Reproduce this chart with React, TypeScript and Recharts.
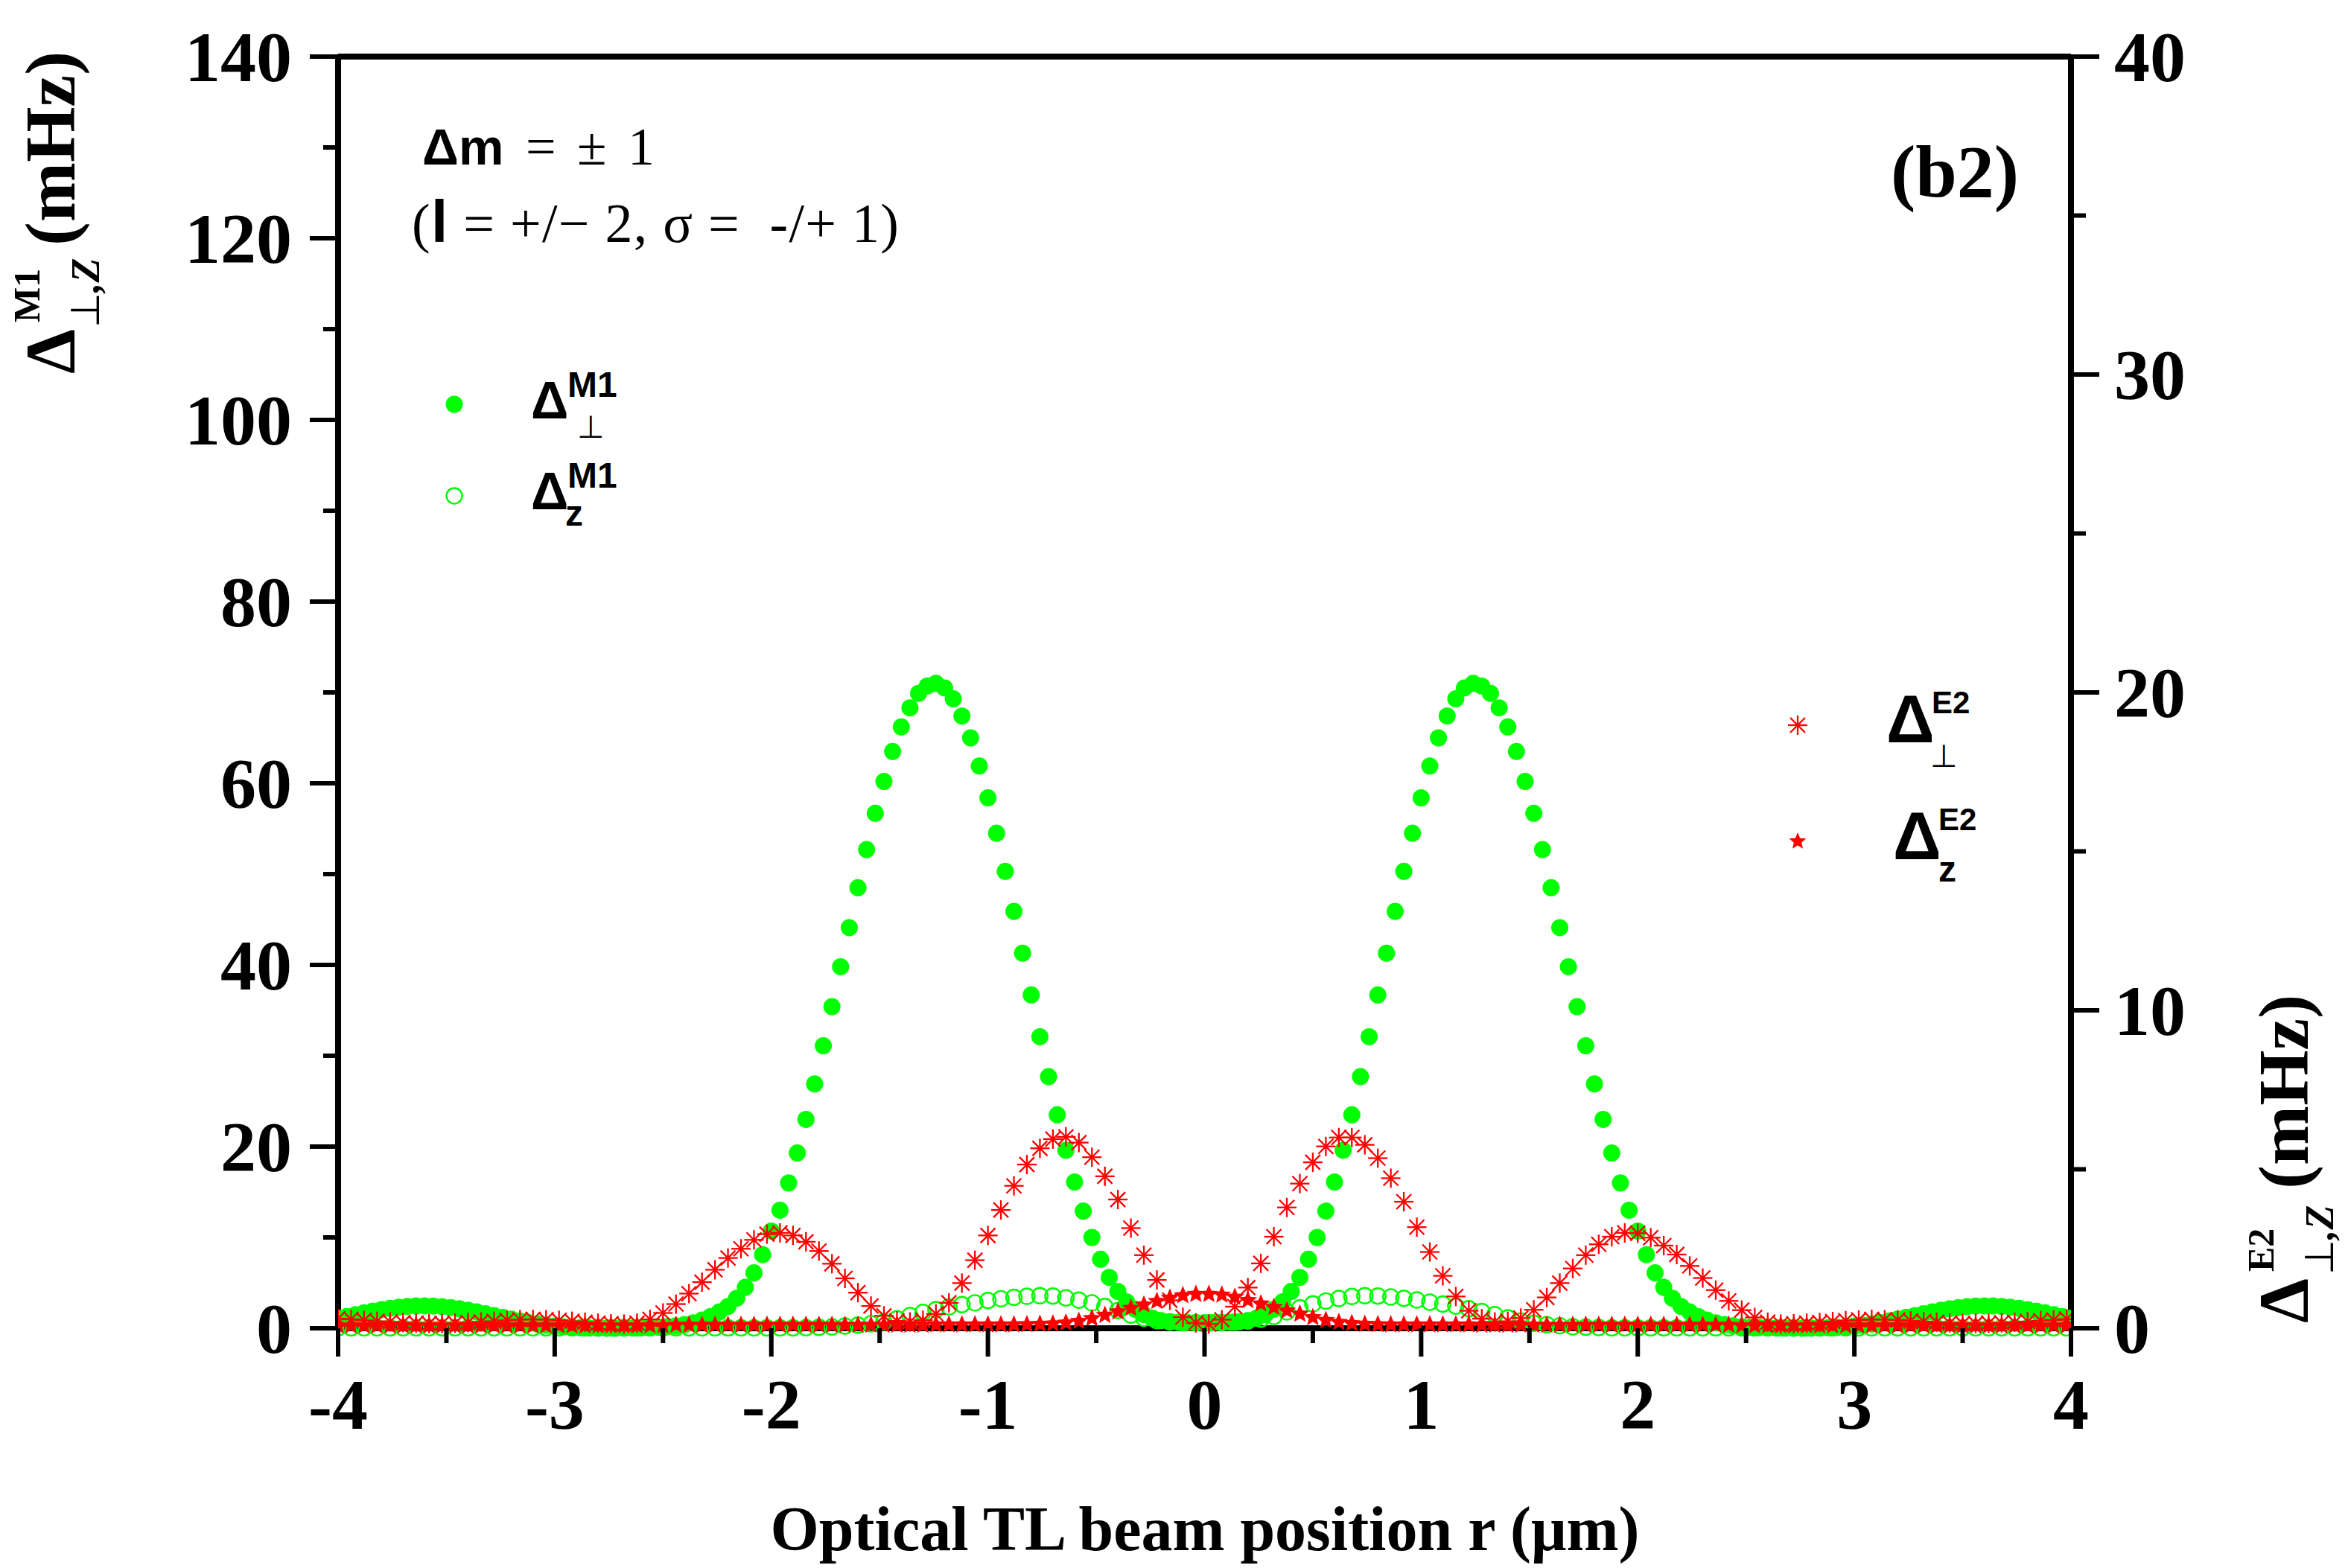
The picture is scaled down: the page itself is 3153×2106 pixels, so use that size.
import { ComposedChart, Scatter, XAxis, YAxis, ReferenceLine } from 'recharts';

const W = 3153;
const H = 2106;
const SERIF = '"Liberation Serif", "Times New Roman", serif';
const SANS = '"Liberation Sans", Arial, sans-serif';
const GREEN = '#00ff00';
const RED = '#ff0000';

// beam positions (um), 0.04 step for the M1 perpendicular series
const rFine = [
  -4, -3.96, -3.92, -3.88, -3.84, -3.8, -3.76, -3.72, -3.68, -3.64,
  -3.6, -3.56, -3.52, -3.48, -3.44, -3.4, -3.36, -3.32, -3.28, -3.24,
  -3.2, -3.16, -3.12, -3.08, -3.04, -3, -2.96, -2.92, -2.88, -2.84,
  -2.8, -2.76, -2.72, -2.68, -2.64, -2.6, -2.56, -2.52, -2.48, -2.44,
  -2.4, -2.36, -2.32, -2.28, -2.24, -2.2, -2.16, -2.12, -2.08, -2.04,
  -2, -1.96, -1.92, -1.88, -1.84, -1.8, -1.76, -1.72, -1.68, -1.64,
  -1.6, -1.56, -1.52, -1.48, -1.44, -1.4, -1.36, -1.32, -1.28, -1.24,
  -1.2, -1.16, -1.12, -1.08, -1.04, -1, -0.96, -0.92, -0.88, -0.84,
  -0.8, -0.76, -0.72, -0.68, -0.64, -0.6, -0.56, -0.52, -0.48, -0.44,
  -0.4, -0.36, -0.32, -0.28, -0.24, -0.2, -0.16, -0.12, -0.08, -0.04,
  0,
  0.04, 0.08, 0.12, 0.16, 0.2, 0.24, 0.28, 0.32, 0.36, 0.4,
  0.44, 0.48, 0.52, 0.56, 0.6, 0.64, 0.68, 0.72, 0.76, 0.8,
  0.84, 0.88, 0.92, 0.96, 1, 1.04, 1.08, 1.12, 1.16, 1.2,
  1.24, 1.28, 1.32, 1.36, 1.4, 1.44, 1.48, 1.52, 1.56, 1.6,
  1.64, 1.68, 1.72, 1.76, 1.8, 1.84, 1.88, 1.92, 1.96, 2,
  2.04, 2.08, 2.12, 2.16, 2.2, 2.24, 2.28, 2.32, 2.36, 2.4,
  2.44, 2.48, 2.52, 2.56, 2.6, 2.64, 2.68, 2.72, 2.76, 2.8,
  2.84, 2.88, 2.92, 2.96, 3, 3.04, 3.08, 3.12, 3.16, 3.2,
  3.24, 3.28, 3.32, 3.36, 3.4, 3.44, 3.48, 3.52, 3.56, 3.6,
  3.64, 3.68, 3.72, 3.76, 3.8, 3.84, 3.88, 3.92, 3.96, 4,
];

// beam positions (um), 0.06 step for the other three series
const rCoarse = [
  -4, -3.94, -3.88, -3.82, -3.76, -3.7, -3.64, -3.58, -3.52, -3.46,
  -3.4, -3.34, -3.28, -3.22, -3.16, -3.1, -3.04, -2.98, -2.92, -2.86,
  -2.8, -2.74, -2.68, -2.62, -2.56, -2.5, -2.44, -2.38, -2.32, -2.26,
  -2.2, -2.14, -2.08, -2.02, -1.96, -1.9, -1.84, -1.78, -1.72, -1.66,
  -1.6, -1.54, -1.48, -1.42, -1.36, -1.3, -1.24, -1.18, -1.12, -1.06,
  -1, -0.94, -0.88, -0.82, -0.76, -0.7, -0.64, -0.58, -0.52, -0.46,
  -0.4, -0.34, -0.28, -0.22, -0.16, -0.1, -0.04, 0.02, 0.08, 0.14,
  0.2, 0.26, 0.32, 0.38, 0.44, 0.5, 0.56, 0.62, 0.68, 0.74,
  0.8, 0.86, 0.92, 0.98, 1.04, 1.1, 1.16, 1.22, 1.28, 1.34,
  1.4, 1.46, 1.52, 1.58, 1.64, 1.7, 1.76, 1.82, 1.88, 1.94,
  2, 2.06, 2.12, 2.18, 2.24, 2.3, 2.36, 2.42, 2.48, 2.54,
  2.6, 2.66, 2.72, 2.78, 2.84, 2.9, 2.96, 3.02, 3.08, 3.14,
  3.2, 3.26, 3.32, 3.38, 3.44, 3.5, 3.56, 3.62, 3.68, 3.74,
  3.8, 3.86, 3.92, 3.98,
];

// M1 perpendicular (mHz, left axis)
const m1Perp = [
  1.1, 1.3, 1.5, 1.7, 1.88, 2.05, 2.2, 2.32, 2.4, 2.45,
  2.46, 2.44, 2.38, 2.28, 2.15, 1.98, 1.8, 1.6, 1.4, 1.2,
  1.0, 0.8, 0.62, 0.47, 0.34, 0.24, 0.16, 0.1, 0.06, 0.03,
  0.02, 0.01, 0.01, 0.02, 0.03, 0.05, 0.08, 0.12, 0.18, 0.27,
  0.4, 0.6, 0.9, 1.3, 1.8, 2.4, 3.3, 4.5, 6.1, 8.1,
  10.7, 13.0, 16.0, 19.3, 23.0, 26.9, 31.1, 35.4, 39.8, 44.1,
  48.5, 52.7, 56.7, 60.2, 63.5, 66.2, 68.3, 69.9, 70.7, 71.0,
  70.5, 69.3, 67.4, 65.0, 61.9, 58.4, 54.5, 50.3, 45.9, 41.3,
  36.7, 32.1, 27.7, 23.5, 19.6, 16.1, 12.9, 10.0, 7.6, 5.6,
  4.05, 2.9, 2.1, 1.5, 1.1, 0.85, 0.72, 0.66, 0.63, 0.62,
  0.62,
  0.62, 0.63, 0.66, 0.72, 0.85, 1.1, 1.5, 2.1, 2.9, 4.05,
  5.6, 7.6, 10.0, 12.9, 16.1, 19.6, 23.5, 27.7, 32.1, 36.7,
  41.3, 45.9, 50.3, 54.5, 58.4, 61.9, 65.0, 67.4, 69.3, 70.5,
  71.0, 70.7, 69.9, 68.3, 66.2, 63.5, 60.2, 56.7, 52.7, 48.5,
  44.1, 39.8, 35.4, 31.1, 26.9, 23.0, 19.3, 16.0, 13.0, 10.7,
  8.1, 6.1, 4.5, 3.3, 2.4, 1.8, 1.3, 0.9, 0.6, 0.4,
  0.27, 0.18, 0.12, 0.08, 0.05, 0.03, 0.02, 0.01, 0.01, 0.02,
  0.03, 0.06, 0.1, 0.16, 0.24, 0.34, 0.47, 0.62, 0.8, 1.0,
  1.2, 1.4, 1.6, 1.8, 1.98, 2.15, 2.28, 2.38, 2.44, 2.46,
  2.45, 2.4, 2.32, 2.2, 2.05, 1.88, 1.7, 1.5, 1.3, 1.1,
];

// M1 z (mHz, left axis)
const m1Z = [
  0.05, 0.05, 0.05, 0.05, 0.05, 0.05, 0.05, 0.05, 0.05, 0.05,
  0.05, 0.05, 0.05, 0.05, 0.05, 0.05, 0.05, 0.05, 0.05, 0.05,
  0.05, 0.05, 0.05, 0.05, 0.05, 0.05, 0.05, 0.05, 0.05, 0.05,
  0.05, 0.05, 0.05, 0.05, 0.05, 0.05, 0.07, 0.1, 0.15, 0.25,
  0.35, 0.5, 0.7, 1.05, 1.4, 1.75, 2.05, 2.35, 2.6, 2.8,
  3.05, 3.25, 3.4, 3.52, 3.58, 3.55, 3.35, 3.1, 2.8, 2.4,
  1.95, 1.45, 1.1, 0.85, 0.7, 0.62, 0.6, 0.6, 0.61, 0.67,
  0.8, 1.0, 1.3, 1.8, 2.25, 2.68, 3.0, 3.28, 3.5, 3.58,
  3.55, 3.45, 3.3, 3.12, 2.88, 2.67, 2.45, 2.15, 1.85, 1.5,
  1.15, 0.8, 0.55, 0.4, 0.28, 0.17, 0.12, 0.08, 0.05, 0.05,
  0.05, 0.05, 0.05, 0.05, 0.05, 0.05, 0.05, 0.05, 0.05, 0.05,
  0.05, 0.05, 0.05, 0.05, 0.05, 0.05, 0.05, 0.05, 0.05, 0.05,
  0.05, 0.05, 0.05, 0.05, 0.05, 0.05, 0.05, 0.05, 0.05, 0.05,
  0.05, 0.05, 0.05, 0.05,
];

// E2 perpendicular (mHz, right axis)
const e2Perp = [
  0.3, 0.28, 0.25, 0.22, 0.2, 0.18, 0.16, 0.15, 0.15, 0.16,
  0.18, 0.2, 0.22, 0.25, 0.27, 0.28, 0.27, 0.25, 0.22, 0.19,
  0.16, 0.14, 0.13, 0.16, 0.28, 0.48, 0.76, 1.09, 1.45, 1.84,
  2.21, 2.5, 2.78, 2.96, 3.0, 2.92, 2.72, 2.43, 2.03, 1.57,
  1.12, 0.7, 0.39, 0.23, 0.2, 0.25, 0.45, 0.8, 1.42, 2.14,
  2.92, 3.72, 4.48, 5.15, 5.66, 5.95, 6.02, 5.84, 5.38, 4.78,
  4.05, 3.15, 2.3, 1.52, 0.88, 0.35, 0.17, 0.13, 0.27, 0.68,
  1.28, 2.04, 2.88, 3.8, 4.55, 5.22, 5.72, 6.0, 6.0, 5.77,
  5.35, 4.72, 3.98, 3.18, 2.4, 1.65, 1.0, 0.55, 0.3, 0.2,
  0.22, 0.32, 0.58, 0.97, 1.42, 1.88, 2.3, 2.64, 2.88, 3.0,
  2.99, 2.85, 2.6, 2.32, 1.96, 1.58, 1.2, 0.86, 0.57, 0.34,
  0.19, 0.13, 0.14, 0.16, 0.18, 0.21, 0.24, 0.26, 0.28, 0.27,
  0.26, 0.23, 0.21, 0.19, 0.17, 0.15, 0.15, 0.16, 0.17, 0.19,
  0.21, 0.24, 0.26, 0.29,
];

// E2 z (mHz, right axis)
const e2Z = [
  0.08, 0.08, 0.08, 0.08, 0.08, 0.08, 0.08, 0.08, 0.08, 0.08,
  0.08, 0.08, 0.08, 0.08, 0.08, 0.08, 0.08, 0.08, 0.08, 0.08,
  0.08, 0.08, 0.08, 0.08, 0.08, 0.08, 0.1, 0.1, 0.1, 0.1,
  0.1, 0.1, 0.1, 0.1, 0.1, 0.1, 0.1, 0.1, 0.1, 0.1,
  0.1, 0.1, 0.1, 0.1, 0.1, 0.1, 0.11, 0.11, 0.11, 0.11,
  0.11, 0.11, 0.11, 0.12, 0.13, 0.14, 0.17, 0.22, 0.31, 0.41,
  0.52, 0.63, 0.74, 0.85, 0.95, 1.03, 1.07, 1.07, 1.05, 0.98,
  0.88, 0.77, 0.66, 0.55, 0.45, 0.34, 0.25, 0.19, 0.15, 0.13,
  0.12, 0.11, 0.11, 0.11, 0.11, 0.11, 0.11, 0.11, 0.1, 0.1,
  0.1, 0.1, 0.1, 0.1, 0.1, 0.1, 0.1, 0.1, 0.1, 0.1,
  0.1, 0.1, 0.1, 0.1, 0.1, 0.1, 0.1, 0.1, 0.08, 0.08,
  0.08, 0.08, 0.08, 0.08, 0.08, 0.08, 0.08, 0.08, 0.08, 0.08,
  0.08, 0.08, 0.08, 0.08, 0.08, 0.08, 0.08, 0.08, 0.08, 0.08,
  0.08, 0.08, 0.08, 0.08,
];

const xTicks = [-4, -3.5, -3, -2.5, -2, -1.5, -1, -0.5, 0, 0.5, 1, 1.5, 2, 2.5, 3, 3.5, 4];
const leftTicks = [0, 10, 20, 30, 40, 50, 60, 70, 80, 90, 100, 110, 120, 130, 140];
const rightTicks = [0, 5, 10, 15, 20, 25, 30, 35, 40];

const toPoints = (xs: number[], ys: number[]) => xs.map((x, i) => ({ x, y: ys[i] }));

function Dot({ cx, cy }: any) {
  return <circle cx={cx} cy={cy} r={11.5} fill={GREEN} />;
}

function Ring({ cx, cy }: any) {
  return <circle cx={cx} cy={cy} r={10.5} fill="none" stroke={GREEN} strokeWidth={2.4} />;
}

function Asterisk({ cx, cy }: any) {
  const a = 13;
  const d = 10;
  return (
    <g stroke={RED} strokeWidth={2.3}>
      <line x1={cx} y1={cy - a} x2={cx} y2={cy + a} />
      <line x1={cx - a} y1={cy} x2={cx + a} y2={cy} />
      <line x1={cx - d} y1={cy - d} x2={cx + d} y2={cy + d} />
      <line x1={cx - d} y1={cy + d} x2={cx + d} y2={cy - d} />
    </g>
  );
}

function Star({ cx, cy, size = 12 }: any) {
  let d = '';
  for (let i = 0; i < 10; i++) {
    const r = i % 2 === 0 ? size : size * 0.45;
    const ang = (-90 + i * 36) * (Math.PI / 180);
    d += (i === 0 ? 'M' : 'L') + (cx + r * Math.cos(ang)).toFixed(2) + ',' + (cy + r * Math.sin(ang)).toFixed(2);
  }
  return <path d={d + 'Z'} fill={RED} />;
}

function XTick({ x, y, payload }: any) {
  const v = payload.value;
  const major = Number.isInteger(v);
  return (
    <g>
      <line x1={x} x2={x} y1={y} y2={y + (major ? 38 : 20)} stroke="#000" strokeWidth={6} />
      {major && (
        <text x={x} y={y + 135} textAnchor="middle" fontFamily={SERIF} fontWeight="bold" fontSize={96}>
          {v}
        </text>
      )}
    </g>
  );
}

function LeftTick({ x, y, payload }: any) {
  const v = payload.value;
  const major = v % 20 === 0;
  return (
    <g>
      <line x1={x - (major ? 38 : 20)} x2={x} y1={y} y2={y} stroke="#000" strokeWidth={6} />
      {major && (
        <text x={x - 62} y={y + 33} textAnchor="end" fontFamily={SERIF} fontWeight="bold" fontSize={96}>
          {v}
        </text>
      )}
    </g>
  );
}

function RightTick({ x, y, payload }: any) {
  const v = payload.value;
  const major = v % 10 === 0;
  return (
    <g>
      <line x1={x} x2={x + (major ? 38 : 20)} y1={y} y2={y} stroke="#000" strokeWidth={6} />
      {major && (
        <text x={x + 58} y={y + 33} textAnchor="start" fontFamily={SERIF} fontWeight="bold" fontSize={96}>
          {v}
        </text>
      )}
    </g>
  );
}

function Overlay() {
  return (
    <svg width={W} height={H} style={{ position: 'absolute', left: 0, top: 0, pointerEvents: 'none' }}>
      <text x={1618} y={2082} textAnchor="middle" fontFamily={SERIF} fontWeight="bold" fontSize={84}>
        Optical TL beam position r (μm)
      </text>

      <g transform="translate(100,502) rotate(-90)" fontFamily={SERIF} fontWeight="bold">
        <text x={0} y={0} fontSize={96}>Δ</text>
        <text x={69} y={-47} fontSize={50}>M1</text>
        <text x={62} y={33} fontSize={54}>
          <tspan fontWeight="normal">⊥</tspan>
          <tspan fontStyle="italic">,Z</tspan>
        </text>
        <text x={172} y={0} fontSize={96}>(mHz)</text>
      </g>

      <g transform="translate(3099,1777) rotate(-90)" fontFamily={SERIF} fontWeight="bold">
        <text x={0} y={0} fontSize={96}>Δ</text>
        <text x={69} y={-46} fontSize={50}>E2</text>
        <text x={65} y={34} fontSize={54}>
          <tspan fontWeight="normal">⊥</tspan>
          <tspan fontStyle="italic">,Z</tspan>
        </text>
        <text x={180} y={0} fontSize={96}>(mHz)</text>
      </g>

      <text y={221} fontFamily={SERIF} fontSize={72}>
        <tspan x={567} fontFamily={SANS} fontWeight="bold" fontSize={68}>Δm</tspan>
        <tspan x={706}>=</tspan>
        <tspan x={775}>±</tspan>
        <tspan x={843}>1</tspan>
      </text>
      <text x={553} y={325} fontFamily={SERIF} fontSize={74} textLength={654} lengthAdjust="spacing" style={{ whiteSpace: 'pre' }}>
        {'('}
        <tspan fontFamily={SANS} fontWeight="bold" fontSize={80}>l</tspan>
        {' = +/\u2212 2, \u03c3 =  -/+ 1)'}
      </text>

      <text x={2625} y={264} textAnchor="middle" fontFamily={SERIF} fontWeight="bold" fontSize={100}>
        (b2)
      </text>

      <Dot cx={610} cy={543} />
      <Ring cx={610} cy={666} />
      <g fontFamily={SANS} fontWeight="bold">
        <text x={713} y={562} fontSize={70}>Δ</text>
        <text x={762} y={533} fontSize={48}>M1</text>
        <text x={775} y={588} fontSize={42} fontWeight="normal">⊥</text>
        <text x={713} y={684} fontSize={70}>Δ</text>
        <text x={762} y={655} fontSize={48}>M1</text>
        <text x={759} y={706} fontSize={48}>z</text>
      </g>

      <Asterisk cx={2414} cy={974} />
      <Star cx={2414} cy={1130} size={12} />
      <g fontFamily={SANS} fontWeight="bold">
        <text x={2533} y={997} fontSize={90}>Δ</text>
        <text x={2594} y={958} fontSize={42}>E2</text>
        <text x={2592} y={1030} fontSize={42} fontWeight="normal">⊥</text>
        <text x={2542} y={1154} fontSize={90}>Δ</text>
        <text x={2603} y={1115} fontSize={42}>E2</text>
        <text x={2603} y={1184} fontSize={48}>z</text>
      </g>
    </svg>
  );
}

export default function App() {
  return (
    <div style={{ position: 'absolute', left: 0, top: 0, width: W, height: H, background: '#fff' }}>
      <ComposedChart width={W} height={H} margin={{ top: 76, right: 371, bottom: 321, left: 453 }}>
        <XAxis
          type="number"
          dataKey="x"
          domain={[-4, 4]}
          ticks={xTicks}
          interval={0}
          allowDataOverflow
          height={1}
          tickSize={0}
          tickMargin={0}
          tickLine={false}
          tick={(p: any) => <XTick {...p} />}
          axisLine={{ stroke: '#000', strokeWidth: 8 }}
        />
        <YAxis
          yAxisId="left"
          type="number"
          dataKey="y"
          domain={[0, 140]}
          ticks={leftTicks}
          interval={0}
          width={1}
          tickSize={0}
          tickMargin={0}
          tickLine={false}
          tick={(p: any) => <LeftTick {...p} />}
          axisLine={{ stroke: '#000', strokeWidth: 8 }}
        />
        <YAxis
          yAxisId="right"
          orientation="right"
          type="number"
          dataKey="y"
          domain={[0, 40]}
          ticks={rightTicks}
          interval={0}
          width={1}
          tickSize={0}
          tickMargin={0}
          tickLine={false}
          tick={(p: any) => <RightTick {...p} />}
          axisLine={{ stroke: '#000', strokeWidth: 8 }}
        />
        <ReferenceLine yAxisId="left" y={140} stroke="#000" strokeWidth={8} />
        <Scatter yAxisId="left" data={toPoints(rFine, m1Perp)} shape={(p: any) => <Dot cx={p.cx} cy={p.cy} />} isAnimationActive={false} />
        <Scatter yAxisId="left" data={toPoints(rCoarse, m1Z)} shape={(p: any) => <Ring cx={p.cx} cy={p.cy} />} isAnimationActive={false} />
        <Scatter yAxisId="right" data={toPoints(rCoarse, e2Perp)} shape={(p: any) => <Asterisk cx={p.cx} cy={p.cy} />} isAnimationActive={false} />
        <Scatter yAxisId="right" data={toPoints(rCoarse, e2Z)} shape={(p: any) => <Star cx={p.cx} cy={p.cy} size={13} />} isAnimationActive={false} />
      </ComposedChart>
      <Overlay />
    </div>
  );
}
